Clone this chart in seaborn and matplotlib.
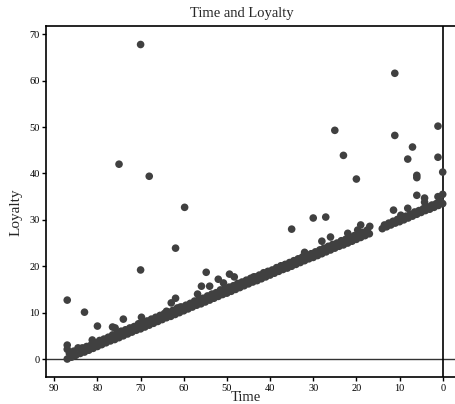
import matplotlib
matplotlib.use("Agg")
import matplotlib.pyplot as plt
import seaborn as sns
import pandas as pd

# Main band (lower edge)
core_time = [87, 86, 85, 84, 83, 82, 81, 80, 79, 78, 77, 76, 75, 74, 73, 72, 71, 70,
             69, 68, 67, 66, 65, 64, 63, 62, 61, 60, 59, 58, 57, 56, 55, 54, 53, 52,
             51, 50, 49, 48, 47, 46, 45, 44, 43, 42, 41, 40, 39, 38, 37, 36, 35, 34,
             33, 32, 31, 30, 29, 28, 27, 26, 25, 24, 23, 22, 21, 20, 19, 18, 17,
             14, 13, 12, 11, 10, 9, 8, 7, 6, 5, 4, 3, 2, 1, 0]
core_loyalty = [0.0, 0.4, 0.8, 1.2, 1.5, 1.9, 2.3, 2.7, 3.1, 3.5, 3.9, 4.2, 4.6, 5.0, 5.4, 5.8, 6.2, 6.5,
                6.9, 7.3, 7.7, 8.1, 8.5, 8.9, 9.2, 9.6, 10.0, 10.4, 10.8, 11.2, 11.6, 11.9, 12.3, 12.7, 13.1, 13.5,
                13.9, 14.2, 14.6, 15.0, 15.4, 15.8, 16.2, 16.6, 16.9, 17.3, 17.7, 18.1, 18.5, 18.9, 19.3, 19.6, 20.0, 20.4,
                20.8, 21.2, 21.6, 21.9, 22.3, 22.7, 23.1, 23.5, 23.9, 24.3, 24.6, 25.0, 25.4, 25.8, 26.2, 26.6, 27.0,
                28.1, 28.5, 28.9, 29.3, 29.6, 30.0, 30.4, 30.8, 31.2, 31.6, 32.0, 32.3, 32.7, 33.1, 33.5]

# Main band (upper row)
upper_time = [86.5, 85.5, 84.5, 83.5, 82.5, 81.5, 80.5, 79.5, 78.5, 77.5, 76.5, 75.5, 74.5, 73.5,
              72.5, 71.5, 70.5, 69.5, 68.5, 67.5, 66.5, 65.5, 64.5, 63.5, 62.5, 61.5, 60.5, 59.5,
              58.5, 57.5, 56.5, 55.5, 54.5, 53.5, 52.5, 51.5, 50.5, 49.5, 48.5, 47.5, 46.5, 45.5,
              44.5, 43.5, 42.5, 41.5, 40.5, 39.5, 38.5, 37.5, 36.5, 35.5, 34.5, 33.5, 32.5, 31.5,
              30.5, 29.5, 28.5, 27.5, 26.5, 25.5, 24.5, 23.5, 22.5, 21.5, 20.5, 19.5, 18.5, 17.5,
              13.5, 12.5, 11.5, 10.5, 9.5, 8.5, 7.5, 6.5, 5.5, 4.5, 3.5, 2.5, 1.5, 0.5]
upper_loyalty = [1.2, 1.7, 2.4, 2.4, 2.7, 3.0, 3.5, 4.0, 4.3, 4.7, 5.2, 5.5, 6.0, 6.3,
                 6.7, 7.0, 7.6, 7.9, 8.2, 8.6, 9.0, 9.4, 9.8, 10.1, 10.5, 11.0, 11.2, 11.6,
                 12.0, 12.5, 12.8, 13.1, 13.6, 14.0, 14.3, 14.7, 15.2, 15.5, 15.8, 16.3, 16.6, 17.0,
                 17.4, 17.7, 18.1, 18.6, 18.9, 19.2, 19.7, 20.1, 20.4, 20.8, 21.2, 21.6, 22.0, 22.4,
                 22.7, 23.1, 23.5, 23.9, 24.3, 24.7, 25.0, 25.5, 25.8, 26.2, 26.6, 27.0, 27.3, 27.8,
                 28.9, 29.3, 29.7, 30.1, 30.4, 30.8, 31.2, 31.7, 32.0, 32.4, 32.8, 33.2, 33.5, 34.0]

# Scattered points above the band
extra_time = [87, 87, 87, 83, 80, 81.2, 76.5, 75.9, 74, 69.8, 64, 62.9, 61.9, 60.8, 56.8,
              55.9, 54, 54.8, 52, 50.8, 51.5, 49.4, 48.3, 43.8, 38.3, 35, 32, 30, 28.3, 28,
              27.1, 26, 25, 23, 22, 20, 19.7, 19, 16.9, 11.1, 11.1, 11.4, 8.1, 8.1, 7,
              6, 6, 6, 4.2, 4.2, 1.1, 1.1, 1.1, 0, 0, 70, 75, 68, 59.8, 61.9, 70, 9.7]
extra_loyalty = [2.1, 3.0, 12.7, 10.1, 7.1, 4.1, 6.9, 6.7, 8.6, 9.0, 10.3, 12.1, 13.1, 11.2, 14.0,
                 15.7, 15.7, 18.7, 17.2, 16.4, 14.9, 18.3, 17.7, 17.7, 19.6, 28.0, 23.0, 30.4, 23.5, 25.4,
                 30.6, 26.3, 49.3, 43.9, 27.1, 38.8, 27.8, 28.9, 28.6, 61.6, 48.2, 32.1, 43.1, 32.5, 45.7,
                 39.6, 39.1, 35.3, 34.7, 33.8, 50.2, 43.5, 35.0, 40.3, 35.5, 67.8, 42.0, 39.4, 32.7, 23.9, 19.2, 31.0]

x_ticks = [90, 80, 70, 60, 50, 40, 30, 20, 10, 0]
y_ticks = [0, 10, 20, 30, 40, 50, 60, 70]

df = pd.DataFrame({
    "Time": core_time + upper_time + extra_time,
    "Loyalty": core_loyalty + upper_loyalty + extra_loyalty,
})

sns.set_style("ticks")
plt.rcParams["font.family"] = ["Liberation Serif", "DejaVu Serif"]

W, H = 456, 404
fig = plt.figure(figsize=(W / 100, H / 100), dpi=100)
ax = fig.add_axes([46 / W, 1 - 377.3 / H, 1 - 46 / W, (377.3 - 26) / H])

sns.scatterplot(data=df, x="Time", y="Loyalty", ax=ax, s=30, color="#404040",
                linewidth=0, edgecolor="none", legend=False, zorder=3)

ax.axhline(0, color="#333333", lw=1.0, zorder=2)
ax.axvline(0, color="black", lw=1.2, zorder=2)

ax.set_xlim(91.92, -3.08)
ax.set_ylim(-3.94, 71.79)
ax.set_xticks(x_ticks)
ax.set_yticks(y_ticks)
ax.set_xlabel("")
ax.set_ylabel("")
ax.tick_params(direction="out", length=3, width=1, pad=1.5, labelsize=7.5, colors="black")
for side in ["left", "bottom", "top"]:
    ax.spines[side].set_visible(True)
    ax.spines[side].set_linewidth(1.2)
    ax.spines[side].set_color("black")
ax.spines["right"].set_visible(False)

fig.text(241.5 / W, 1 - 14 / H, "Time and Loyalty", ha="center", va="center", fontsize=10.5)
fig.text(246 / W, 1 - 401 / H, "Time", ha="center", va="baseline", fontsize=10.5)
fig.text(16 / W, 1 - 212 / H, "Loyalty", ha="center", va="center", rotation=90, fontsize=11)

fig.savefig("out.png", dpi=100)
